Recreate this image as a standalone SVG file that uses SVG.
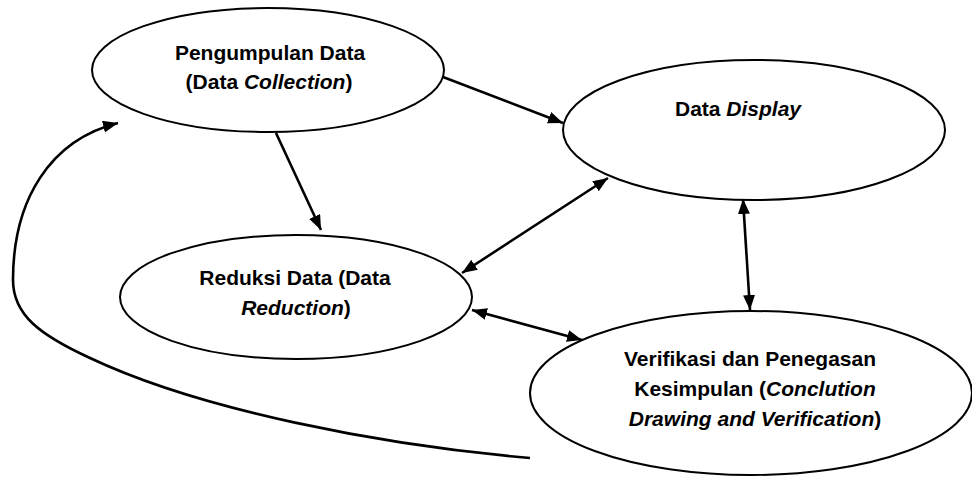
<svg xmlns="http://www.w3.org/2000/svg" width="972" height="480" viewBox="0 0 972 480">
<style>
.node ellipse{fill:#fff;stroke:#000;stroke-width:2}
.node text{font-family:"Liberation Sans",Arial,sans-serif;font-weight:bold;font-size:21px;fill:#000;text-anchor:middle}
.it{font-style:italic}
.conn{fill:none;stroke:#000;stroke-width:2.6}
</style>
<defs>
<marker id="ah" markerUnits="userSpaceOnUse" markerWidth="16" markerHeight="14" refX="15" refY="6" orient="auto-start-reverse">
<path d="M0,0 L15,6 L0,12 z" fill="#000"/>
</marker>
</defs>
<rect width="972" height="480" fill="#fff"/>
<g id="connectors">
<line class="conn" x1="443" y1="77" x2="563" y2="123" marker-end="url(#ah)"/>
<line class="conn" x1="276" y1="133" x2="321" y2="230" marker-end="url(#ah)"/>
<line class="conn" x1="462" y1="273" x2="608" y2="178" marker-start="url(#ah)" marker-end="url(#ah)"/>
<line class="conn" x1="472" y1="310" x2="582" y2="340" marker-start="url(#ah)" marker-end="url(#ah)"/>
<line class="conn" x1="743" y1="199" x2="750" y2="310" marker-start="url(#ah)" marker-end="url(#ah)"/>
<path class="conn" d="M530 458 C380 445 200 410 90 358 C40 335 13 315 13 280 C13 200 50 140 118 123" marker-end="url(#ah)"/>
</g>
<g id="pengumpulan" class="node">
<ellipse cx="268" cy="70" rx="176" ry="62"/>
<text x="270" y="60">Pengumpulan Data</text>
<text x="269" y="89">(Data <tspan class="it">Collection</tspan>)</text>
</g>
<g id="display" class="node">
<ellipse cx="754" cy="130" rx="191" ry="70"/>
<text x="738" y="116">Data <tspan class="it">Display</tspan></text>
</g>
<g id="reduksi" class="node">
<ellipse cx="296" cy="297" rx="176" ry="62"/>
<text x="295" y="285">Reduksi Data (Data</text>
<text x="296" y="315"><tspan class="it">Reduction</tspan>)</text>
</g>
<g id="verifikasi" class="node">
<ellipse cx="751" cy="393" rx="221" ry="82"/>
<text x="750" y="366">Verifikasi dan Penegasan</text>
<text x="755" y="396">Kesimpulan (<tspan class="it">Conclution</tspan></text>
<text x="755" y="426"><tspan class="it">Drawing and Verification</tspan>)</text>
</g>
</svg>
